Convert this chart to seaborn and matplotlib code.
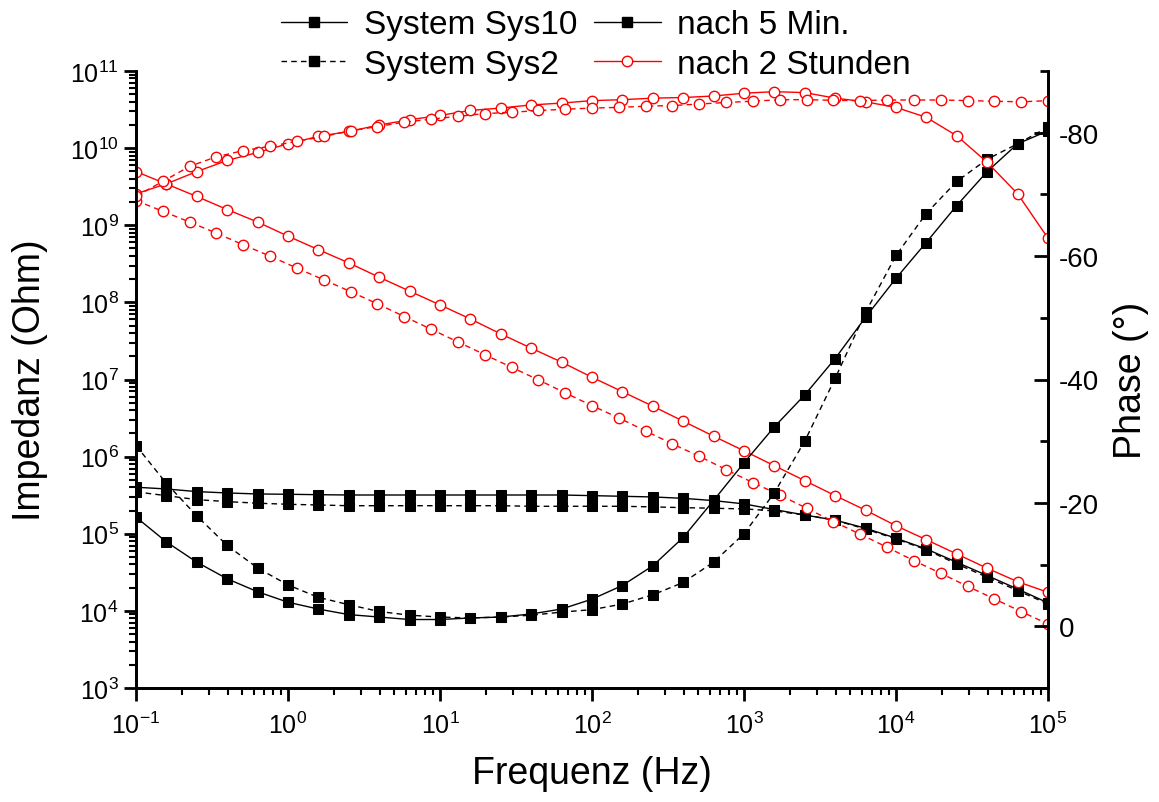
import numpy as np
import matplotlib
matplotlib.use("Agg")
import matplotlib.pyplot as plt
from matplotlib.lines import Line2D
from matplotlib.ticker import FixedLocator, NullFormatter, LogFormatterSciNotation
import seaborn as sns

sns.set_style("ticks")
plt.rcParams['font.family'] = ['Liberation Sans', 'DejaVu Sans']
plt.rcParams['mathtext.default'] = 'regular'
plt.rcParams['axes.unicode_minus'] = False
for k in ['text.color', 'axes.labelcolor', 'xtick.color', 'ytick.color', 'axes.edgecolor']:
    plt.rcParams[k] = 'black'

# frequency grids (Hz)
freq31 = [0.1, 0.158, 0.251, 0.398, 0.631, 1, 1.58, 2.51, 3.98, 6.31, 10, 15.8, 25.1,
          39.8, 63.1, 100, 158, 251, 398, 631, 1000, 1580, 2510, 3980, 6310, 10000,
          15800, 25100, 39800, 63100, 100000]
freq35 = [0.1, 0.150, 0.2254, 0.3384, 0.5081, 0.7629, 1.1455, 1.7198, 2.582, 3.877,
          5.821, 8.739, 13.12, 19.70, 29.58, 44.41, 66.68, 100, 150.1, 225.4, 338.4,
          508.1, 762.9, 1145, 1720, 2582, 3877, 5821, 8739, 13120, 19700, 29580,
          44410, 66680, 100000]

# impedance |Z| (Ohm)
z_sys10_5min = [4.01e5, 3.81e5, 3.52e5, 3.38e5, 3.28e5, 3.25e5, 3.21e5, 3.18e5, 3.18e5,
                3.18e5, 3.18e5, 3.18e5, 3.18e5, 3.18e5, 3.18e5, 3.12e5, 3.06e5, 3.00e5,
                2.88e5, 2.69e5, 2.44e5, 2.06e5, 1.75e5, 1.50e5, 1.18e5, 8.75e4, 6.36e4,
                4.27e4, 2.87e4, 1.92e4, 1.27e4]
z_sys2_5min = [3.49e5, 3.12e5, 2.77e5, 2.61e5, 2.49e5, 2.41e5, 2.36e5, 2.31e5, 2.31e5,
               2.31e5, 2.31e5, 2.31e5, 2.31e5, 2.27e5, 2.27e5, 2.27e5, 2.27e5, 2.23e5,
               2.18e5, 2.14e5, 2.10e5, 1.98e5, 1.75e5, 1.50e5, 1.15e5, 8.57e4, 6.22e4,
               4.06e4, 2.73e4, 1.83e4, 1.23e4]
z_sys10_2h = [4.97e9, 3.44e9, 2.36e9, 1.60e9, 1.10e9, 7.22e8, 4.84e8, 3.25e8, 2.12e8,
              1.40e8, 9.27e7, 6.11e7, 3.90e7, 2.55e7, 1.68e7, 1.07e7, 6.97e6, 4.51e6,
              2.88e6, 1.84e6, 1.19e6, 7.64e5, 4.88e5, 3.12e5, 2.02e5, 1.27e5, 8.38e4,
              5.47e4, 3.57e4, 2.39e4, 1.74e4]
z_sys2_2h = [2.09e9, 1.52e9, 1.10e9, 7.90e8, 5.57e8, 3.97e8, 2.78e8, 1.96e8, 1.38e8,
             9.57e7, 6.55e7, 4.49e7, 3.07e7, 2.10e7, 1.44e7, 9.89e6, 6.70e6, 4.58e6,
             3.18e6, 2.15e6, 1.46e6, 1.01e6, 6.78e5, 4.60e5, 3.18e5, 2.14e5, 1.44e5,
             9.86e4, 6.68e4, 4.48e4, 3.07e4, 2.08e4, 1.43e4, 9.77e3, 6.76e3]

# phase (degrees)
p_sys10_5min = [-17.7, -13.7, -10.4, -7.7, -5.6, -3.9, -2.8, -1.9, -1.5, -1.1, -1.1,
                -1.35, -1.5, -2.0, -2.8, -4.4, -6.6, -9.8, -14.4, -20.4, -26.5, -32.3,
                -37.5, -43.4, -50.1, -56.4, -62.2, -68.2, -73.7, -78.2, -80.3]
p_sys2_5min = [-29.3, -23.2, -17.9, -13.1, -9.45, -6.7, -4.7, -3.5, -2.4, -1.8, -1.5,
               -1.35, -1.5, -1.8, -2.3, -2.7, -3.6, -5.1, -7.1, -10.4, -15.0, -21.6,
               -30.0, -40.2, -50.9, -60.1, -66.9, -72.1, -75.7, -78.2, -80.9]
p_sys10_2h = [-70.1, -71.7, -73.7, -75.5, -76.8, -78.2, -79.4, -80.2, -81.25, -82.1,
              -82.8, -83.6, -84.0, -84.5, -84.8, -85.2, -85.35, -85.6, -85.7, -85.95,
              -86.4, -86.65, -86.5, -85.6, -85.0, -84.1, -82.5, -79.5, -75.2, -70.1,
              -62.9]
p_sys2_2h = [-69.7, -72.1, -74.55, -76.1, -77.1, -77.8, -78.6, -79.4, -80.3, -81.0,
             -81.7, -82.2, -82.65, -83.1, -83.3, -83.6, -83.8, -84.0, -84.1, -84.3,
             -84.4, -84.65, -84.9, -85.1, -85.35, -85.35, -85.25, -85.2, -85.3, -85.3,
             -85.3, -85.2, -85.1, -85.0, -85.2]

x_decades = [1e-1, 1e0, 1e1, 1e2, 1e3, 1e4, 1e5]
y_decades = [1e3, 1e4, 1e5, 1e6, 1e7, 1e8, 1e9, 1e10, 1e11]
phase_ticks = [-80, -60, -40, -20, 0]
phase_minor = [-90, -70, -50, -30, -10, 10]

DASH = (0, (4, 3))
fig = plt.figure(figsize=(11.59, 8.03), dpi=100)
ax = fig.add_axes([136/1159, 1-689/803, (1048-136)/1159, (689-72)/803])
ax2 = ax.twinx()

blk = dict(color='black', marker='s', markersize=7, markerfacecolor='black',
           markeredgecolor='black', linewidth=1)
red = dict(color='red', marker='o', markersize=7.5, markerfacecolor='white',
           markeredgecolor='red', markeredgewidth=1, linewidth=1)

series = [
    (ax, freq31, z_sys10_5min, blk, '-'),
    (ax, freq31, z_sys2_5min, blk, DASH),
    (ax, freq31, z_sys10_2h, red, '-'),
    (ax, freq35, z_sys2_2h, red, DASH),
    (ax2, freq31, p_sys10_5min, blk, '-'),
    (ax2, freq31, p_sys2_5min, blk, DASH),
    (ax2, freq31, p_sys10_2h, red, '-'),
    (ax2, freq35, p_sys2_2h, red, DASH),
]
for a, fx, fy, sty, ls in series:
    sns.lineplot(x=fx, y=fy, ax=a, linestyle=ls, legend=False, **sty)

ax.set_xscale('log')
ax.set_yscale('log')
ax.set_xlim(0.1, 1e5)
ax.set_ylim(1e3, 1e11)
ax2.set_ylim(10, -90)

def minors(decades):
    out = []
    for d in decades[:-1]:
        out += [d * m for m in range(2, 10)]
    return out

ax.xaxis.set_major_locator(FixedLocator(x_decades))
ax.xaxis.set_major_formatter(LogFormatterSciNotation())
ax.xaxis.set_minor_locator(FixedLocator(minors(x_decades)))
ax.xaxis.set_minor_formatter(NullFormatter())
ax.yaxis.set_major_locator(FixedLocator(y_decades))
ax.yaxis.set_major_formatter(LogFormatterSciNotation())
ax.yaxis.set_minor_locator(FixedLocator(minors(y_decades)))
ax.yaxis.set_minor_formatter(NullFormatter())

ax2.yaxis.set_major_locator(FixedLocator(phase_ticks))
ax2.yaxis.set_minor_locator(FixedLocator(phase_minor))
ax2.set_yticklabels([str(t) for t in phase_ticks])

for a in (ax, ax2):
    a.spines['top'].set_visible(False)
    for s in a.spines.values():
        s.set_linewidth(2)
        s.set_color('black')
ax.tick_params(axis='x', which='major', pad=8)
ax.tick_params(axis='both', which='major', direction='out', length=9, width=2,
               labelsize=18, color='black', labelcolor='black')
ax.tick_params(axis='both', which='minor', direction='out', length=5, width=1.5,
               color='black')
ax2.tick_params(axis='y', which='major', direction='in', length=10, width=2,
                labelsize=20, pad=8, color='black', labelcolor='black')
ax2.tick_params(axis='y', which='minor', direction='in', length=6, width=2,
                color='black')

ax.set_xlabel('Frequenz (Hz)', fontsize=27, labelpad=12)
ax.set_ylabel('Impedanz (Ohm)', fontsize=27, labelpad=16)
ax2.set_ylabel('Phase (°)', fontsize=27, labelpad=10)
ax.grid(False)
ax2.grid(False)

handles = [
    Line2D([], [], color='black', marker='s', markersize=7, linewidth=1),
    Line2D([], [], color='black', marker='s', markersize=7, linewidth=1, linestyle=DASH),
    Line2D([], [], color='black', marker='s', markersize=7, linewidth=1),
    Line2D([], [], color='red', marker='o', markersize=7.5, markerfacecolor='white',
           linewidth=1),
]
labels = ['System Sys10', 'System Sys2', 'nach 5 Min.', 'nach 2 Stunden']
fig.legend(handles, labels, ncol=2, loc='upper center', bbox_to_anchor=(0.514, 1.012),
           frameon=False, fontsize=24, handlelength=2.0, handletextpad=0.5,
           columnspacing=0.5, labelspacing=0.25, borderpad=0.1)

fig.savefig('out.png', dpi=100)
